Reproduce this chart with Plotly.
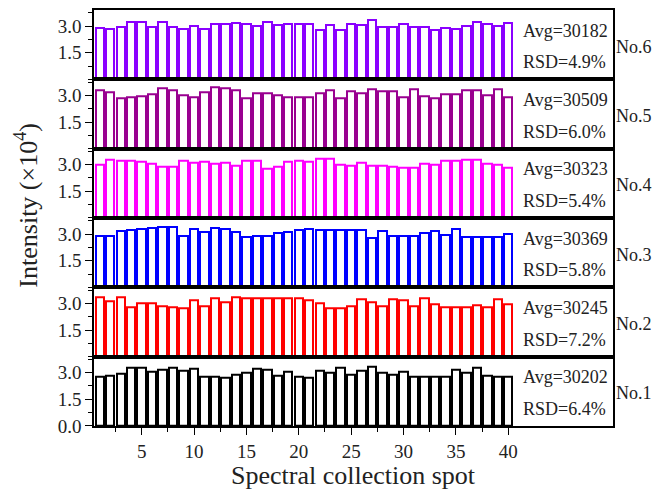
import plotly.graph_objects as go
from plotly.subplots import make_subplots

# Spectral intensity (x10^4) at 40 collection spots for six samples
spots = list(range(1, 41))

no1 = [2.80, 2.81, 2.94, 3.30, 3.28, 3.08, 3.15, 3.30, 3.10, 3.23,
       2.78, 2.78, 2.72, 2.91, 3.00, 3.23, 3.15, 2.81, 3.06, 2.78,
       2.74, 3.11, 3.00, 3.28, 2.91, 3.13, 3.32, 2.98, 2.89, 3.06,
       2.78, 2.78, 2.78, 2.78, 3.19, 3.02, 3.28, 2.85, 2.80, 2.80]
no2 = [3.32, 3.10, 3.32, 2.80, 2.98, 3.00, 2.81, 2.76, 2.72, 3.19,
       2.85, 3.26, 3.08, 3.34, 3.26, 3.30, 3.28, 3.28, 3.30, 3.28,
       3.17, 3.00, 2.74, 2.74, 2.81, 3.21, 3.08, 2.81, 3.25, 3.17,
       2.83, 3.26, 2.96, 2.80, 2.80, 2.80, 2.89, 2.78, 3.23, 2.93]
no3 = [2.89, 2.89, 3.15, 3.25, 3.30, 3.34, 3.38, 3.41, 2.89, 3.26,
       3.11, 3.34, 3.28, 3.11, 2.81, 2.87, 2.91, 3.06, 3.11, 3.23,
       3.26, 3.23, 3.25, 3.20, 3.20, 3.20, 2.80, 3.17, 2.87, 2.87,
       2.91, 3.04, 3.15, 2.96, 3.26, 2.83, 2.83, 2.83, 2.83, 3.02]
no4 = [3.00, 3.28, 3.21, 3.23, 3.17, 3.08, 2.91, 2.91, 3.21, 3.11,
       3.15, 3.08, 3.11, 2.95, 3.23, 3.21, 2.78, 2.91, 3.19, 3.21,
       3.19, 3.36, 3.36, 3.00, 2.95, 3.10, 2.96, 2.96, 2.91, 2.85,
       2.85, 3.04, 3.02, 3.23, 3.25, 3.28, 3.30, 3.06, 2.98, 2.81]
no5 = [3.26, 3.15, 2.85, 2.89, 2.96, 3.08, 3.38, 3.30, 3.02, 2.91,
       3.17, 3.43, 3.40, 3.28, 2.85, 3.11, 3.11, 2.98, 2.91, 2.87,
       2.89, 3.10, 3.28, 2.81, 3.23, 3.11, 3.32, 3.25, 3.25, 2.89,
       3.32, 2.95, 2.85, 3.06, 3.06, 3.30, 3.26, 3.00, 3.36, 2.91]
no6 = [2.87, 2.85, 2.95, 3.25, 3.25, 2.95, 3.23, 2.96, 2.85, 2.98,
       2.85, 3.11, 3.13, 3.19, 3.13, 2.98, 3.25, 3.04, 3.13, 3.11,
       3.13, 2.79, 3.07, 2.79, 3.09, 3.04, 3.34, 2.96, 2.96, 3.10,
       2.93, 2.93, 2.78, 2.91, 2.85, 3.02, 3.21, 3.13, 3.02, 3.17]

# Top-to-bottom panel order
series = [no6, no5, no4, no3, no2, no1]
names = ["No.6", "No.5", "No.4", "No.3", "No.2", "No.1"]
avg_labels = ["Avg=30182", "Avg=30509", "Avg=30323", "Avg=30369", "Avg=30245", "Avg=30202"]
rsd_labels = ["RSD=4.9%", "RSD=6.0%", "RSD=5.4%", "RSD=5.8%", "RSD=7.2%", "RSD=6.4%"]
colors = ["#8A00FF", "#990090", "#FF00FF", "#0000FF", "#FF0000", "#000000"]

x_major = [5, 10, 15, 20, 25, 30, 35, 40]
x_minor = [2.5, 7.5, 12.5, 17.5, 22.5, 27.5, 32.5, 37.5]

FONT = "Liberation Serif"
TXT = "#222"

fig = make_subplots(rows=6, cols=1, shared_xaxes=True, vertical_spacing=0)

for i, (vals, col) in enumerate(zip(series, colors)):
    row = i + 1
    fig.add_trace(
        go.Bar(
            x=spots, y=vals, width=0.8,
            marker=dict(color="rgba(255,255,255,0)", line=dict(color=col, width=2)),
            showlegend=False,
        ),
        row=row, col=1,
    )
    bottom = row == 6
    if bottom:
        major_y = dict(tickvals=[0, 1.5, 3.0], ticktext=["0.0", "1.5", "3.0"])
        minor_y = [0.75, 2.25, 3.75]
    else:
        major_y = dict(tickvals=[1.5, 3.0], ticktext=["1.5", "3.0"])
        minor_y = [0, 0.75, 2.25, 3.75]
    fig.update_yaxes(
        range=[0, 3.9],
        **major_y,
        ticks="outside", ticklen=7, tickwidth=1.3, tickcolor="black",
        minor=dict(tickvals=minor_y, ticks="outside", ticklen=4,
                   tickwidth=1.3, tickcolor="black"),
        showline=True, linecolor="black", linewidth=1.5, mirror=True,
        showgrid=False, zeroline=False,
        tickfont=dict(family=FONT, size=19, color=TXT),
        row=row, col=1,
    )
    fig.update_xaxes(
        range=[0.45, 50],
        tickvals=x_major,
        ticks="outside" if bottom else "",
        ticklen=7, tickwidth=1.3, tickcolor="black",
        minor=dict(tickvals=x_minor, ticks="outside" if bottom else "", ticklen=4,
                   tickwidth=1.3, tickcolor="black"),
        showticklabels=bottom,
        showline=True, linecolor="black", linewidth=1.5, mirror=True,
        showgrid=False, zeroline=False,
        tickfont=dict(family=FONT, size=19, color=TXT),
        row=row, col=1,
    )

    ydom = "y domain" if row == 1 else f"y{row} domain"
    xref = "x" if row == 1 else f"x{row}"
    fig.add_annotation(x=41.2, y=0.70, xref=xref, yref=ydom, text=avg_labels[i],
                       showarrow=False, xanchor="left", yanchor="middle",
                       font=dict(family=FONT, size=18, color=TXT))
    fig.add_annotation(x=41.2, y=0.245, xref=xref, yref=ydom, text=rsd_labels[i],
                       showarrow=False, xanchor="left", yanchor="middle",
                       font=dict(family=FONT, size=18, color=TXT))
    fig.add_annotation(x=1.0, y=0.47, xref="paper", yref=ydom, text=names[i],
                       showarrow=False, xanchor="left", yanchor="middle", xshift=1,
                       font=dict(family=FONT, size=18, color=TXT))

fig.add_annotation(x=-0.13, y=0.531, xref="paper", yref="paper",
                   text="Intensity (×10<sup>4</sup>)", textangle=-90,
                   showarrow=False, xanchor="center", yanchor="middle",
                   font=dict(family=FONT, size=26, color=TXT))
fig.add_annotation(x=0.5, y=-0.118, xref="paper", yref="paper",
                   text="Spectral collection spot",
                   showarrow=False, xanchor="center", yanchor="middle",
                   font=dict(family=FONT, size=26, color=TXT))

fig.update_layout(
    width=654, height=491,
    margin=dict(l=94, r=41, t=10, b=65),
    paper_bgcolor="white", plot_bgcolor="white",
    bargap=0,
)

fig.write_html("out.html")
